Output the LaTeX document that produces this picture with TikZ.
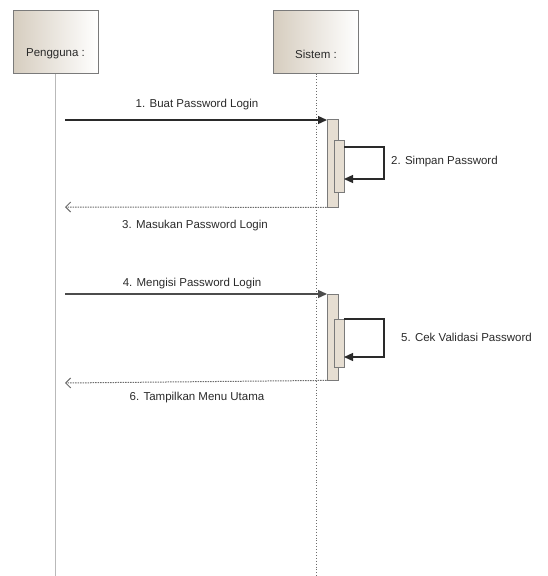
\documentclass[tikz,border=0pt]{standalone}
\usepackage{fontspec}
\setmainfont{Liberation Sans}
\usetikzlibrary{arrows.meta}
\definecolor{boxleft}{HTML}{D6CDBF}
\definecolor{barfill}{HTML}{E6DED2}
\definecolor{edge}{HTML}{7A7A7A}
\definecolor{ink}{HTML}{2A2A2A}
\begin{document}
\begin{tikzpicture}[x=1pt,y=-1pt]
\tikzset{
  actor/.style={draw=edge, line width=1pt, minimum width=85pt, minimum height=63pt, inner sep=0pt, left color=boxleft, right color=white, shading angle=90},
  actbar/.style={draw=edge, line width=0.8pt, fill=barfill, minimum width=11pt, inner sep=0pt},
  nestbar/.style={draw=edge, line width=0.8pt, fill=barfill, minimum width=10pt, inner sep=0pt},
  lbl/.style={font=\fontsize{11.5}{13}\selectfont, text=ink, inner sep=1pt},
  lifeA/.style={draw=gray!55, line width=0.9pt},
  lifeB/.style={draw=gray!85!black, line width=0.9pt, dotted},
  msg/.style={draw=ink, line width=1.3pt, -{Triangle[length=9pt,width=8pt]}},
  ret/.style={draw=gray!85!black, line width=1pt, dash pattern=on 1.5pt off 1pt, -{Straight Barb[length=5pt,width=10pt]}},
}
\useasboundingbox (0,0) rectangle (548,576);
% actors
\node[actor] (pg) at (55.5,41.5) {};
\node[lbl] (pgt) at (55.5,54) {Pengguna :};
\node[actor] (st) at (316,41.5) {};
\node[lbl] (stt) at (316,54) {Sistem :};
% lifeline ends
\coordinate (pgbot) at (55.5,576);
\coordinate (stbot) at (316,576);
\draw[lifeA] (pg.south) -- (pgbot);
\draw[lifeB] (st.south) -- (stbot);
% activation bars
\node[actbar, minimum height=88pt] (a1) at (332.5,163) {};
\node[nestbar, minimum height=52pt] (n1) at (339,166) {};
\node[actbar, minimum height=86pt] (a2) at (332.5,337) {};
\node[nestbar, minimum height=48pt] (n2) at (339,343) {};
% message end points
\coordinate (m1s) at (65,120);
\coordinate (m1e) at (327,120);
\coordinate (m3e) at (65,207);
\coordinate (m4s) at (65,294);
\coordinate (m4e) at (327,294);
\coordinate (m6e) at (65,383);
\coordinate (s1a) at (344,147);
\coordinate (s1b) at (384,147);
\coordinate (s1c) at (384,179);
\coordinate (s1d) at (344,179);
\coordinate (s2a) at (344,319);
\coordinate (s2b) at (384,319);
\coordinate (s2c) at (384,357);
\coordinate (s2d) at (344,357);
% messages
\draw[msg] (m1s) -- (m1e);
\node[lbl] (l1) at (197,105) {1. Buat Password Login};
\draw[msg] (s1a) -- (s1b) -- (s1c) -- (s1d);
\node[lbl, anchor=west] (l2) at (390,162) {2. Simpan Password};
\draw[ret] (a1.south west) -- (m3e);
\node[lbl] (l3) at (195,226) {3. Masukan Password Login};
\draw[msg, draw=gray!60!black] (m4s) -- (m4e);
\node[lbl] (l4) at (192,284) {4. Mengisi Password Login};
\draw[msg] (s2a) -- (s2b) -- (s2c) -- (s2d);
\node[lbl, anchor=west] (l5) at (400,337) {5. Cek Validasi Password};
\draw[ret] (a2.south west) -- (m6e);
\node[lbl] (l6) at (197,398) {6. Tampilkan Menu Utama};
\end{tikzpicture}
\end{document}
